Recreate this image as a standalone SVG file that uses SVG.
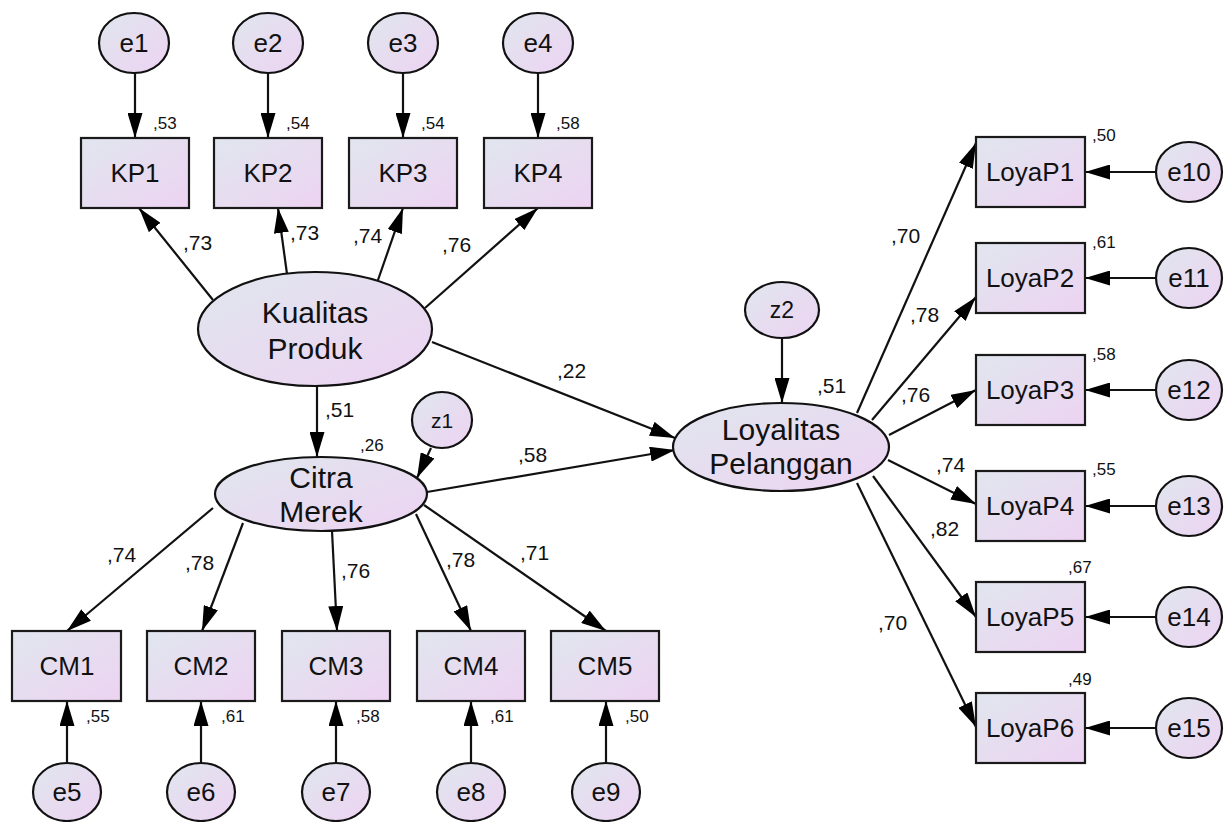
<svg xmlns="http://www.w3.org/2000/svg" width="1225" height="822" viewBox="0 0 1225 822">
<style>
text{font-family:"Liberation Sans",Arial,sans-serif;fill:#111}
.obs rect{fill:url(#g);stroke:#1a1a1a;stroke-width:2.2}
.lat ellipse{fill:url(#g);stroke:#111;stroke-width:2.2}
.obs text,.err text{font-size:26px;text-anchor:middle}
.lat text{font-size:30px;text-anchor:middle}
.err ellipse{fill:url(#g);stroke:#111;stroke-width:2.2}
.con line{stroke:#111;stroke-width:2.2;marker-end:url(#ah)}
.lbl{font-size:21px}
.r2{font-size:17px}
</style>
<defs>
<linearGradient id="g" x1="0" y1="0" x2="1" y2="1">
<stop offset="0" stop-color="#E0E6EE"/>
<stop offset="1" stop-color="#EDD3F2"/>
</linearGradient>
<marker id="ah" viewBox="0 0 25 15" refX="25" refY="7.5" markerWidth="25" markerHeight="15" markerUnits="userSpaceOnUse" orient="auto">
<path d="M0,0 L25,7.5 L0,15 z" fill="#000"/>
</marker>
</defs>

<g id="connectors" class="con">
<line x1="135" y1="73" x2="135" y2="138"/>
<line x1="268" y1="73" x2="268" y2="138"/>
<line x1="403" y1="73" x2="403" y2="138"/>
<line x1="538" y1="73" x2="538" y2="138"/>
<line x1="213" y1="300" x2="139" y2="208"/>
<line x1="287" y1="274" x2="278" y2="208"/>
<line x1="378" y1="280" x2="403" y2="208"/>
<line x1="425" y1="308" x2="538" y2="208"/>
<line x1="317" y1="386" x2="317" y2="457"/>
<line x1="431" y1="448" x2="417" y2="478"/>
<line x1="432" y1="342" x2="675" y2="438"/>
<line x1="427" y1="492" x2="675" y2="450"/>
<line x1="782" y1="337" x2="782" y2="403"/>
<line x1="213" y1="508" x2="67" y2="631"/>
<line x1="243" y1="523" x2="202" y2="631"/>
<line x1="332" y1="531" x2="337" y2="631"/>
<line x1="416" y1="514" x2="471" y2="631"/>
<line x1="424" y1="505" x2="606" y2="631"/>
<line x1="67" y1="763" x2="67" y2="701"/>
<line x1="201" y1="763" x2="201" y2="701"/>
<line x1="336" y1="763" x2="336" y2="701"/>
<line x1="471" y1="763" x2="471" y2="701"/>
<line x1="606" y1="763" x2="606" y2="701"/>
<line x1="857" y1="413" x2="976" y2="143"/>
<line x1="872" y1="420" x2="976" y2="297"/>
<line x1="889" y1="435" x2="976" y2="390"/>
<line x1="888" y1="460" x2="976" y2="504"/>
<line x1="873" y1="476" x2="976" y2="617"/>
<line x1="857" y1="483" x2="976" y2="727"/>
<line x1="1156" y1="172" x2="1085" y2="172"/>
<line x1="1156" y1="278" x2="1085" y2="278"/>
<line x1="1156" y1="390" x2="1085" y2="390"/>
<line x1="1156" y1="506" x2="1085" y2="506"/>
<line x1="1156" y1="617" x2="1085" y2="617"/>
<line x1="1156" y1="728" x2="1085" y2="728"/>
</g>

<g id="labels">
<text class="r2" x="153" y="129">,53</text>
<text class="r2" x="286" y="129">,54</text>
<text class="r2" x="421" y="129">,54</text>
<text class="r2" x="556" y="129">,58</text>
<text class="lbl" x="183" y="250">,73</text>
<text class="lbl" x="290" y="240">,73</text>
<text class="lbl" x="353" y="243">,74</text>
<text class="lbl" x="442" y="252">,76</text>
<text class="lbl" x="325" y="417">,51</text>
<text class="r2" x="360" y="451">,26</text>
<text class="lbl" x="557" y="378">,22</text>
<text class="lbl" x="518" y="462">,58</text>
<text class="lbl" x="817" y="393">,51</text>
<text class="lbl" x="107" y="562">,74</text>
<text class="lbl" x="185" y="570">,78</text>
<text class="lbl" x="341" y="578">,76</text>
<text class="lbl" x="446" y="567">,78</text>
<text class="lbl" x="520" y="560">,71</text>
<text class="r2" x="86" y="722">,55</text>
<text class="r2" x="221" y="722">,61</text>
<text class="r2" x="356" y="722">,58</text>
<text class="r2" x="490" y="722">,61</text>
<text class="r2" x="625" y="722">,50</text>
<text class="r2" x="1092" y="141">,50</text>
<text class="r2" x="1092" y="248">,61</text>
<text class="r2" x="1092" y="360">,58</text>
<text class="r2" x="1092" y="475">,55</text>
<text class="r2" x="1068" y="573">,67</text>
<text class="r2" x="1068" y="685">,49</text>
<text class="lbl" x="891" y="243">,70</text>
<text class="lbl" x="910" y="322">,78</text>
<text class="lbl" x="901" y="402">,76</text>
<text class="lbl" x="936" y="472">,74</text>
<text class="lbl" x="930" y="536">,82</text>
<text class="lbl" x="878" y="630">,70</text>
</g>

<g id="e1" class="err"><ellipse cx="134" cy="43" rx="35" ry="30"/><text x="134" y="52">e1</text></g>
<g id="e2" class="err"><ellipse cx="268" cy="43" rx="35" ry="30"/><text x="268" y="52">e2</text></g>
<g id="e3" class="err"><ellipse cx="403" cy="43" rx="35" ry="30"/><text x="403" y="52">e3</text></g>
<g id="e4" class="err"><ellipse cx="538" cy="43" rx="35" ry="30"/><text x="538" y="52">e4</text></g>

<g id="KP1" class="obs"><rect x="81" y="138" width="108" height="70"/><text x="135" y="182">KP1</text></g>
<g id="KP2" class="obs"><rect x="214" y="138" width="108" height="70"/><text x="268" y="182">KP2</text></g>
<g id="KP3" class="obs"><rect x="349" y="138" width="108" height="70"/><text x="403" y="182">KP3</text></g>
<g id="KP4" class="obs"><rect x="484" y="138" width="108" height="70"/><text x="538" y="182">KP4</text></g>

<g id="KualitasProduk" class="lat"><ellipse cx="315" cy="329" rx="117" ry="57"/><text x="315" y="323">Kualitas</text><text x="315" y="359">Produk</text></g>
<g id="CitraMerek" class="lat"><ellipse cx="321" cy="494" rx="106" ry="37"/><text x="321" y="488">Citra</text><text x="321" y="522">Merek</text></g>
<g id="LoyalitasPelanggan" class="lat"><ellipse cx="781" cy="447" rx="108" ry="44"/><text x="781" y="440">Loyalitas</text><text x="781" y="474">Pelanggan</text></g>

<g id="z1" class="err"><ellipse cx="442" cy="420" rx="30" ry="28"/><text x="442" y="428" style="font-size:21px">z1</text></g>
<g id="z2" class="err"><ellipse cx="782" cy="310" rx="37" ry="28"/><text x="782" y="318" style="font-size:23px">z2</text></g>

<g id="CM1" class="obs"><rect x="12" y="631" width="109" height="70"/><text x="67" y="675">CM1</text></g>
<g id="CM2" class="obs"><rect x="147" y="631" width="108" height="70"/><text x="201" y="675">CM2</text></g>
<g id="CM3" class="obs"><rect x="282" y="631" width="108" height="70"/><text x="336" y="675">CM3</text></g>
<g id="CM4" class="obs"><rect x="417" y="631" width="108" height="70"/><text x="471" y="675">CM4</text></g>
<g id="CM5" class="obs"><rect x="551" y="631" width="108" height="70"/><text x="605" y="675">CM5</text></g>

<g id="e5" class="err"><ellipse cx="67" cy="792" rx="34" ry="29"/><text x="67" y="801">e5</text></g>
<g id="e6" class="err"><ellipse cx="201" cy="792" rx="34" ry="29"/><text x="201" y="801">e6</text></g>
<g id="e7" class="err"><ellipse cx="336" cy="792" rx="34" ry="29"/><text x="336" y="801">e7</text></g>
<g id="e8" class="err"><ellipse cx="471" cy="792" rx="34" ry="29"/><text x="471" y="801">e8</text></g>
<g id="e9" class="err"><ellipse cx="606" cy="792" rx="34" ry="29"/><text x="606" y="801">e9</text></g>

<g id="LoyaP1" class="obs"><rect x="976" y="137" width="109" height="70"/><text x="1030" y="181">LoyaP1</text></g>
<g id="LoyaP2" class="obs"><rect x="976" y="243" width="109" height="70"/><text x="1030" y="287">LoyaP2</text></g>
<g id="LoyaP3" class="obs"><rect x="976" y="355" width="109" height="70"/><text x="1030" y="399">LoyaP3</text></g>
<g id="LoyaP4" class="obs"><rect x="976" y="471" width="109" height="70"/><text x="1030" y="515">LoyaP4</text></g>
<g id="LoyaP5" class="obs"><rect x="976" y="582" width="109" height="70"/><text x="1030" y="626">LoyaP5</text></g>
<g id="LoyaP6" class="obs"><rect x="976" y="693" width="109" height="70"/><text x="1030" y="737">LoyaP6</text></g>

<g id="e10" class="err"><ellipse cx="1189" cy="172" rx="33" ry="30"/><text x="1189" y="181">e10</text></g>
<g id="e11" class="err"><ellipse cx="1189" cy="278" rx="33" ry="30"/><text x="1189" y="287">e11</text></g>
<g id="e12" class="err"><ellipse cx="1189" cy="390" rx="33" ry="30"/><text x="1189" y="399">e12</text></g>
<g id="e13" class="err"><ellipse cx="1189" cy="506" rx="33" ry="30"/><text x="1189" y="515">e13</text></g>
<g id="e14" class="err"><ellipse cx="1189" cy="617" rx="33" ry="30"/><text x="1189" y="626">e14</text></g>
<g id="e15" class="err"><ellipse cx="1189" cy="728" rx="33" ry="30"/><text x="1189" y="737">e15</text></g>
</svg>
